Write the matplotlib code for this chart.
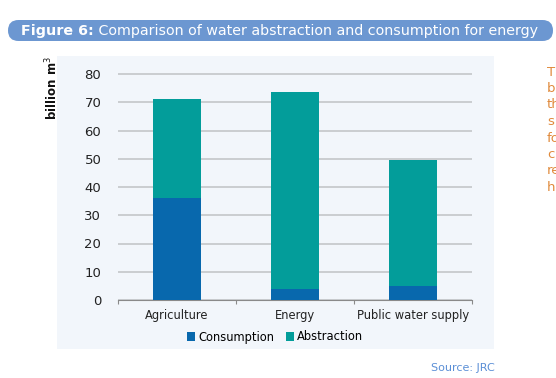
import matplotlib
matplotlib.use("Agg")
import matplotlib.pyplot as plt
from matplotlib.patches import FancyBboxPatch, Rectangle

# data
sectors = ['Agriculture', 'Energy', 'Public water supply']
abstraction = [71, 73.5, 49.5]
consumption = [36, 4, 5]
y_ticks = [0, 10, 20, 30, 40, 50, 60, 70, 80]

c_cons = '#0868ad'
c_abs = '#039d9a'
panel_bg = '#f2f6fb'

fig = plt.figure(figsize=(5.56, 3.78), dpi=100)
W, H = 556, 378

# page background axes in pixel units (y down)
bg = fig.add_axes([0, 0, 1, 1], zorder=0)
bg.set_xlim(0, W)
bg.set_ylim(H, 0)
bg.axis('off')
bg.add_patch(Rectangle((57, 56), 437, 293, color=panel_bg, lw=0))
bg.add_patch(FancyBboxPatch((8, 20), 545, 21,
                            boxstyle='round,pad=0,rounding_size=10.5',
                            color='#6c97d1', lw=0))
t1 = bg.text(21, 31, 'Figure 6:', color='white', fontsize=10.3,
             fontweight='bold', va='center', ha='left')
bg.annotate(' Comparison of water abstraction and consumption for energy',
            xy=(1, 0.5), xycoords=t1, va='center', ha='left',
            color='white', fontsize=10.3)

bg.text(52, 88, 'billion m$^3$', rotation=90, fontsize=8.5,
        fontweight='bold', ha='center', va='center', color='#111111')
bg.text(495, 368, 'Source: JRC', color='#5b8fd6', fontsize=8,
        ha='right', va='center')

# cut-off body text on the right edge of the page
side = ['T', 'b', 'th', 's', 'fo', 'c', 're', 'h']
for k, word in enumerate(side):
    bg.text(547, 72 + k * 16.5, word, color='#e08a3c',
            fontsize=9.5, ha='left', va='center')

ax = fig.add_axes([118 / W, 1 - 300 / H, 354 / W, 80.5 * 2.825 / H], zorder=2)
ax.set_facecolor('none')
x = range(len(sectors))
ax.bar(x, abstraction, width=0.4, color=c_abs, label='Abstraction', zorder=3)
ax.bar(x, consumption, width=0.4, color=c_cons, label='Consumption', zorder=4)

ax.set_xlim(-0.5, 2.5)
ax.set_ylim(0, 80.5)
ax.set_yticks(y_ticks)
ax.yaxis.grid(True, color='#c4c6c9', linewidth=1.2, zorder=1)
ax.set_axisbelow(True)
for s in ['top', 'right', 'left']:
    ax.spines[s].set_visible(False)
ax.spines['bottom'].set_color('#8a8a8a')
ax.tick_params(axis='y', length=0, labelsize=9.5, pad=12, labelcolor='#222222')
ax.set_xticks([-0.5, 0.5, 1.5, 2.5])
ax.set_xticklabels([])
ax.tick_params(axis='x', length=3, color='#8a8a8a')
for i, name in enumerate(sectors):
    ax.text(i, -5.5, name, ha='center', va='center', fontsize=8.3, color='#222222')

handles, labels = ax.get_legend_handles_labels()
fig.legend(handles[::-1], labels[::-1], loc='center', bbox_to_anchor=(275 / W, 1 - 337 / H),
           ncol=2, frameon=False, fontsize=8.3, handlelength=0.7, handleheight=0.7,
           handletextpad=0.3, columnspacing=1.0)

fig.savefig('out.png', dpi=100)
